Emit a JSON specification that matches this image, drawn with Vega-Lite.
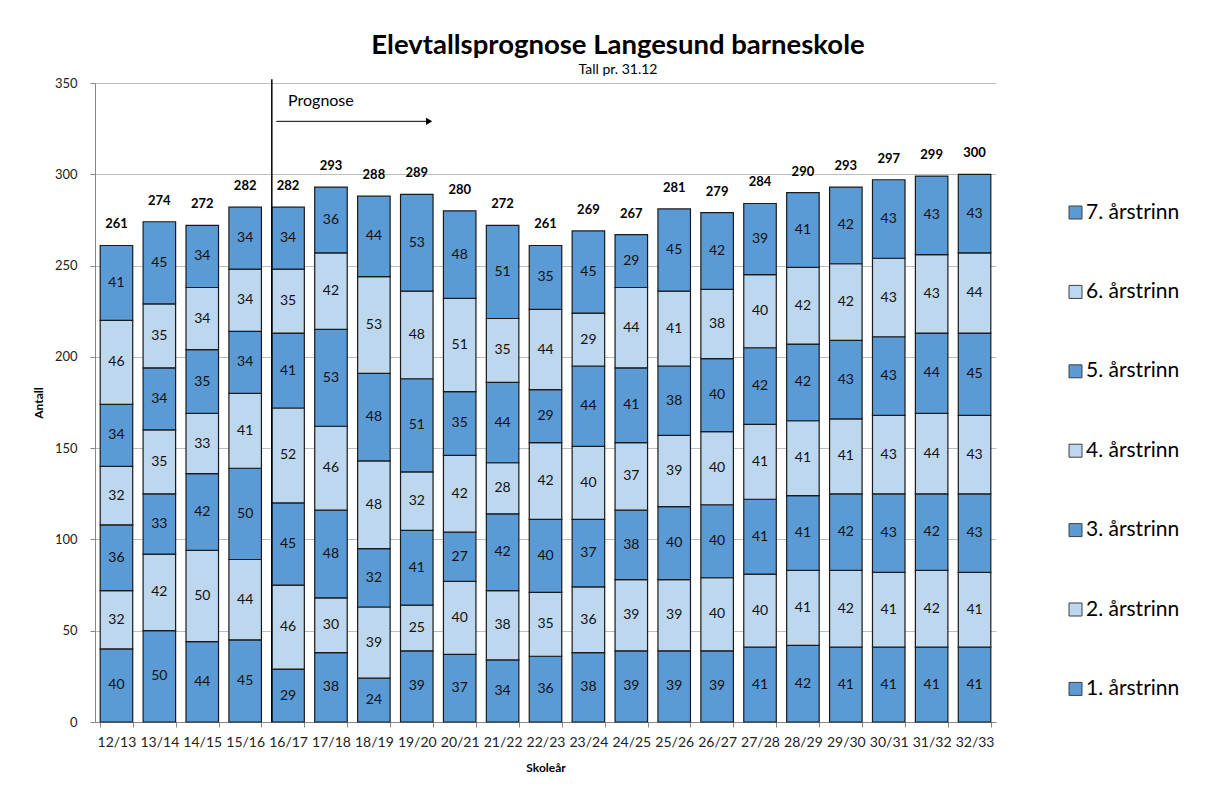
{
"$schema":"https://vega.github.io/schema/vega-lite/v6.json",
"width":910,"height":639,
"autosize":{"type":"none"},
"padding":{"left":95,"top":83,"right":209,"bottom":73},
"background":"white",
"title":{"text":"Elevtallsprognose Langesund barneskole","subtitle":"Tall pr. 31.12","anchor":"middle","dx":68,"font":"Lato","fontSize":27.5,"fontWeight":"bold","color":"#000","subtitleFont":"Lato","subtitleFontSize":14,"subtitleColor":"#000","offset":0,"subtitlePadding":4},
"config":{"font":"Lato","view":{"stroke":null},"axis":{"labelFont":"Lato","titleFont":"Lato","labelColor":"#222","titleColor":"#000","titleFontWeight":"bold","titleFontSize":12,"labelFontSize":13,"domainColor":"#888","tickColor":"#888","tickSize":5}},
"datasets":{"elev":[
{"aar":"12/13","n":1,"trinn":"1. årstrinn","v":40},{"aar":"12/13","n":2,"trinn":"2. årstrinn","v":32},{"aar":"12/13","n":3,"trinn":"3. årstrinn","v":36},{"aar":"12/13","n":4,"trinn":"4. årstrinn","v":32},{"aar":"12/13","n":5,"trinn":"5. årstrinn","v":34},{"aar":"12/13","n":6,"trinn":"6. årstrinn","v":46},{"aar":"12/13","n":7,"trinn":"7. årstrinn","v":41},
{"aar":"13/14","n":1,"trinn":"1. årstrinn","v":50},{"aar":"13/14","n":2,"trinn":"2. årstrinn","v":42},{"aar":"13/14","n":3,"trinn":"3. årstrinn","v":33},{"aar":"13/14","n":4,"trinn":"4. årstrinn","v":35},{"aar":"13/14","n":5,"trinn":"5. årstrinn","v":34},{"aar":"13/14","n":6,"trinn":"6. årstrinn","v":35},{"aar":"13/14","n":7,"trinn":"7. årstrinn","v":45},
{"aar":"14/15","n":1,"trinn":"1. årstrinn","v":44},{"aar":"14/15","n":2,"trinn":"2. årstrinn","v":50},{"aar":"14/15","n":3,"trinn":"3. årstrinn","v":42},{"aar":"14/15","n":4,"trinn":"4. årstrinn","v":33},{"aar":"14/15","n":5,"trinn":"5. årstrinn","v":35},{"aar":"14/15","n":6,"trinn":"6. årstrinn","v":34},{"aar":"14/15","n":7,"trinn":"7. årstrinn","v":34},
{"aar":"15/16","n":1,"trinn":"1. årstrinn","v":45},{"aar":"15/16","n":2,"trinn":"2. årstrinn","v":44},{"aar":"15/16","n":3,"trinn":"3. årstrinn","v":50},{"aar":"15/16","n":4,"trinn":"4. årstrinn","v":41},{"aar":"15/16","n":5,"trinn":"5. årstrinn","v":34},{"aar":"15/16","n":6,"trinn":"6. årstrinn","v":34},{"aar":"15/16","n":7,"trinn":"7. årstrinn","v":34},
{"aar":"16/17","n":1,"trinn":"1. årstrinn","v":29},{"aar":"16/17","n":2,"trinn":"2. årstrinn","v":46},{"aar":"16/17","n":3,"trinn":"3. årstrinn","v":45},{"aar":"16/17","n":4,"trinn":"4. årstrinn","v":52},{"aar":"16/17","n":5,"trinn":"5. årstrinn","v":41},{"aar":"16/17","n":6,"trinn":"6. årstrinn","v":35},{"aar":"16/17","n":7,"trinn":"7. årstrinn","v":34},
{"aar":"17/18","n":1,"trinn":"1. årstrinn","v":38},{"aar":"17/18","n":2,"trinn":"2. årstrinn","v":30},{"aar":"17/18","n":3,"trinn":"3. årstrinn","v":48},{"aar":"17/18","n":4,"trinn":"4. årstrinn","v":46},{"aar":"17/18","n":5,"trinn":"5. årstrinn","v":53},{"aar":"17/18","n":6,"trinn":"6. årstrinn","v":42},{"aar":"17/18","n":7,"trinn":"7. årstrinn","v":36},
{"aar":"18/19","n":1,"trinn":"1. årstrinn","v":24},{"aar":"18/19","n":2,"trinn":"2. årstrinn","v":39},{"aar":"18/19","n":3,"trinn":"3. årstrinn","v":32},{"aar":"18/19","n":4,"trinn":"4. årstrinn","v":48},{"aar":"18/19","n":5,"trinn":"5. årstrinn","v":48},{"aar":"18/19","n":6,"trinn":"6. årstrinn","v":53},{"aar":"18/19","n":7,"trinn":"7. årstrinn","v":44},
{"aar":"19/20","n":1,"trinn":"1. årstrinn","v":39},{"aar":"19/20","n":2,"trinn":"2. årstrinn","v":25},{"aar":"19/20","n":3,"trinn":"3. årstrinn","v":41},{"aar":"19/20","n":4,"trinn":"4. årstrinn","v":32},{"aar":"19/20","n":5,"trinn":"5. årstrinn","v":51},{"aar":"19/20","n":6,"trinn":"6. årstrinn","v":48},{"aar":"19/20","n":7,"trinn":"7. årstrinn","v":53},
{"aar":"20/21","n":1,"trinn":"1. årstrinn","v":37},{"aar":"20/21","n":2,"trinn":"2. årstrinn","v":40},{"aar":"20/21","n":3,"trinn":"3. årstrinn","v":27},{"aar":"20/21","n":4,"trinn":"4. årstrinn","v":42},{"aar":"20/21","n":5,"trinn":"5. årstrinn","v":35},{"aar":"20/21","n":6,"trinn":"6. årstrinn","v":51},{"aar":"20/21","n":7,"trinn":"7. årstrinn","v":48},
{"aar":"21/22","n":1,"trinn":"1. årstrinn","v":34},{"aar":"21/22","n":2,"trinn":"2. årstrinn","v":38},{"aar":"21/22","n":3,"trinn":"3. årstrinn","v":42},{"aar":"21/22","n":4,"trinn":"4. årstrinn","v":28},{"aar":"21/22","n":5,"trinn":"5. årstrinn","v":44},{"aar":"21/22","n":6,"trinn":"6. årstrinn","v":35},{"aar":"21/22","n":7,"trinn":"7. årstrinn","v":51},
{"aar":"22/23","n":1,"trinn":"1. årstrinn","v":36},{"aar":"22/23","n":2,"trinn":"2. årstrinn","v":35},{"aar":"22/23","n":3,"trinn":"3. årstrinn","v":40},{"aar":"22/23","n":4,"trinn":"4. årstrinn","v":42},{"aar":"22/23","n":5,"trinn":"5. årstrinn","v":29},{"aar":"22/23","n":6,"trinn":"6. årstrinn","v":44},{"aar":"22/23","n":7,"trinn":"7. årstrinn","v":35},
{"aar":"23/24","n":1,"trinn":"1. årstrinn","v":38},{"aar":"23/24","n":2,"trinn":"2. årstrinn","v":36},{"aar":"23/24","n":3,"trinn":"3. årstrinn","v":37},{"aar":"23/24","n":4,"trinn":"4. årstrinn","v":40},{"aar":"23/24","n":5,"trinn":"5. årstrinn","v":44},{"aar":"23/24","n":6,"trinn":"6. årstrinn","v":29},{"aar":"23/24","n":7,"trinn":"7. årstrinn","v":45},
{"aar":"24/25","n":1,"trinn":"1. årstrinn","v":39},{"aar":"24/25","n":2,"trinn":"2. årstrinn","v":39},{"aar":"24/25","n":3,"trinn":"3. årstrinn","v":38},{"aar":"24/25","n":4,"trinn":"4. årstrinn","v":37},{"aar":"24/25","n":5,"trinn":"5. årstrinn","v":41},{"aar":"24/25","n":6,"trinn":"6. årstrinn","v":44},{"aar":"24/25","n":7,"trinn":"7. årstrinn","v":29},
{"aar":"25/26","n":1,"trinn":"1. årstrinn","v":39},{"aar":"25/26","n":2,"trinn":"2. årstrinn","v":39},{"aar":"25/26","n":3,"trinn":"3. årstrinn","v":40},{"aar":"25/26","n":4,"trinn":"4. årstrinn","v":39},{"aar":"25/26","n":5,"trinn":"5. årstrinn","v":38},{"aar":"25/26","n":6,"trinn":"6. årstrinn","v":41},{"aar":"25/26","n":7,"trinn":"7. årstrinn","v":45},
{"aar":"26/27","n":1,"trinn":"1. årstrinn","v":39},{"aar":"26/27","n":2,"trinn":"2. årstrinn","v":40},{"aar":"26/27","n":3,"trinn":"3. årstrinn","v":40},{"aar":"26/27","n":4,"trinn":"4. årstrinn","v":40},{"aar":"26/27","n":5,"trinn":"5. årstrinn","v":40},{"aar":"26/27","n":6,"trinn":"6. årstrinn","v":38},{"aar":"26/27","n":7,"trinn":"7. årstrinn","v":42},
{"aar":"27/28","n":1,"trinn":"1. årstrinn","v":41},{"aar":"27/28","n":2,"trinn":"2. årstrinn","v":40},{"aar":"27/28","n":3,"trinn":"3. årstrinn","v":41},{"aar":"27/28","n":4,"trinn":"4. årstrinn","v":41},{"aar":"27/28","n":5,"trinn":"5. årstrinn","v":42},{"aar":"27/28","n":6,"trinn":"6. årstrinn","v":40},{"aar":"27/28","n":7,"trinn":"7. årstrinn","v":39},
{"aar":"28/29","n":1,"trinn":"1. årstrinn","v":42},{"aar":"28/29","n":2,"trinn":"2. årstrinn","v":41},{"aar":"28/29","n":3,"trinn":"3. årstrinn","v":41},{"aar":"28/29","n":4,"trinn":"4. årstrinn","v":41},{"aar":"28/29","n":5,"trinn":"5. årstrinn","v":42},{"aar":"28/29","n":6,"trinn":"6. årstrinn","v":42},{"aar":"28/29","n":7,"trinn":"7. årstrinn","v":41},
{"aar":"29/30","n":1,"trinn":"1. årstrinn","v":41},{"aar":"29/30","n":2,"trinn":"2. årstrinn","v":42},{"aar":"29/30","n":3,"trinn":"3. årstrinn","v":42},{"aar":"29/30","n":4,"trinn":"4. årstrinn","v":41},{"aar":"29/30","n":5,"trinn":"5. årstrinn","v":43},{"aar":"29/30","n":6,"trinn":"6. årstrinn","v":42},{"aar":"29/30","n":7,"trinn":"7. årstrinn","v":42},
{"aar":"30/31","n":1,"trinn":"1. årstrinn","v":41},{"aar":"30/31","n":2,"trinn":"2. årstrinn","v":41},{"aar":"30/31","n":3,"trinn":"3. årstrinn","v":43},{"aar":"30/31","n":4,"trinn":"4. årstrinn","v":43},{"aar":"30/31","n":5,"trinn":"5. årstrinn","v":43},{"aar":"30/31","n":6,"trinn":"6. årstrinn","v":43},{"aar":"30/31","n":7,"trinn":"7. årstrinn","v":43},
{"aar":"31/32","n":1,"trinn":"1. årstrinn","v":41},{"aar":"31/32","n":2,"trinn":"2. årstrinn","v":42},{"aar":"31/32","n":3,"trinn":"3. årstrinn","v":42},{"aar":"31/32","n":4,"trinn":"4. årstrinn","v":44},{"aar":"31/32","n":5,"trinn":"5. årstrinn","v":44},{"aar":"31/32","n":6,"trinn":"6. årstrinn","v":43},{"aar":"31/32","n":7,"trinn":"7. årstrinn","v":43},
{"aar":"32/33","n":1,"trinn":"1. årstrinn","v":41},{"aar":"32/33","n":2,"trinn":"2. årstrinn","v":41},{"aar":"32/33","n":3,"trinn":"3. årstrinn","v":43},{"aar":"32/33","n":4,"trinn":"4. årstrinn","v":43},{"aar":"32/33","n":5,"trinn":"5. årstrinn","v":45},{"aar":"32/33","n":6,"trinn":"6. årstrinn","v":44},{"aar":"32/33","n":7,"trinn":"7. årstrinn","v":43}
]},
"data":{"name":"elev"},
"encoding":{"x":{"field":"aar","type":"nominal","title":"Skoleår","scale":{"range":[0,901],"paddingInner":0.242,"paddingOuter":0.121},"axis":{"labelAngle":0,"labelFontSize":14,"tickBand":"extent","labelPadding":8,"titlePadding":13,"grid":false}}},
"layer":[
{"mark":{"type":"bar","stroke":"#1a1a1a","strokeWidth":1.2},
 "encoding":{
  "y":{"field":"v","type":"quantitative","stack":"zero","title":"Antall","scale":{"domain":[0,350]},"axis":{"values":[0,50,100,150,200,250,300,350],"grid":true,"gridColor":"#bdbdbd","labelPadding":13,"titlePadding":9}},
  "color":{"field":"trinn","type":"nominal","scale":{"domain":["7. årstrinn","6. årstrinn","5. årstrinn","4. årstrinn","3. årstrinn","2. årstrinn","1. årstrinn"],"range":["#5B9BD5","#BDD7EE","#5B9BD5","#BDD7EE","#5B9BD5","#BDD7EE","#5B9BD5"]},
   "legend":{"title":null,"orient":"none","legendX":970,"legendY":119,"symbolType":"square","symbolSize":169,"symbolStrokeColor":"#404040","symbolStrokeWidth":1,"labelFont":"Lato","labelFontSize":21,"labelColor":"#000","labelOffset":0,"rowPadding":57.4}},
  "order":{"field":"n","type":"quantitative","sort":"ascending"}}},
{"transform":[{"stack":"v","groupby":["aar"],"sort":[{"field":"n","order":"ascending"}],"as":["y0","y1"]},{"fold":["y0","y1"],"as":["k","pos"]},{"aggregate":[{"op":"mean","field":"pos","as":"mid"}],"groupby":["aar","n","v"]}],
 "mark":{"type":"text","fontSize":14,"color":"#111","baseline":"middle"},
 "encoding":{"y":{"field":"mid","type":"quantitative"},"text":{"field":"v","type":"quantitative"}}},
{"mark":{"type":"text","fontSize":13,"fontWeight":"bold","color":"#000","baseline":"middle","dy":-21},
 "encoding":{"y":{"aggregate":"sum","field":"v","type":"quantitative"},"text":{"aggregate":"sum","field":"v","type":"quantitative"}}},
{"data":{"values":[{}]},"mark":{"type":"rule","color":"#000","strokeWidth":1.5},
 "encoding":{"x":{"datum":"16/17","bandPosition":0},"y":{"datum":0},"y2":{"datum":352}}},
{"data":{"values":[{}]},"mark":{"type":"rule","color":"#000","strokeWidth":1},
 "encoding":{"x":{"datum":"16/17","bandPosition":0.14},"x2":{"datum":"19/20","bandPosition":0.85},"y":{"datum":329}}},
{"data":{"values":[{}]},"mark":{"type":"point","shape":"triangle-right","filled":true,"color":"#000","size":50,"opacity":1},
 "encoding":{"x":{"datum":"19/20","bandPosition":0.88},"y":{"datum":329}}},
{"data":{"values":[{}]},"mark":{"type":"text","fontSize":16,"align":"left","baseline":"middle","color":"#000"},
 "encoding":{"x":{"datum":"16/17","bandPosition":0.5},"y":{"datum":340},"text":{"value":"Prognose"}}}
]
}
